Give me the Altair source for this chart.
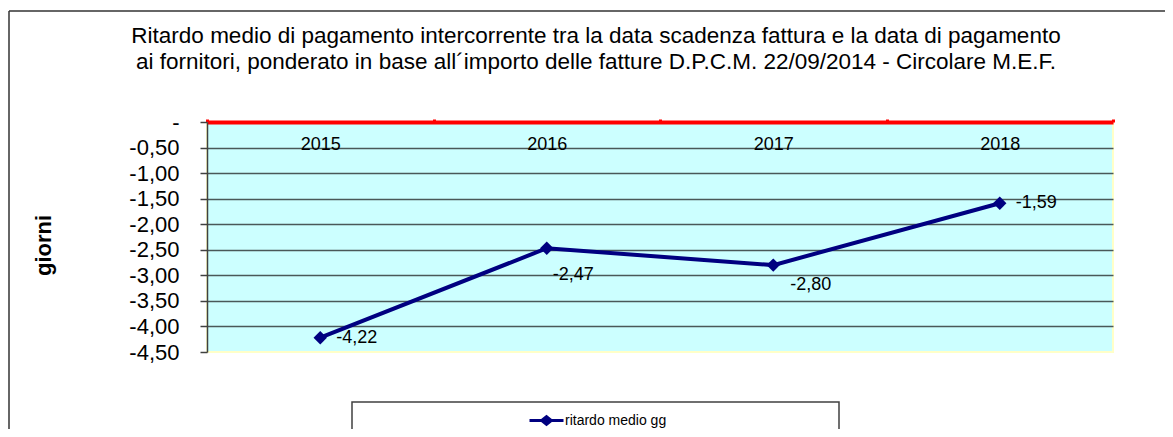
import altair as alt
import pandas as pd

# ---- data ----
ANNI = ["2015", "2016", "2017", "2018"]
VALORI = [-4.22, -2.47, -2.80, -1.59]
SERIE = "ritardo medio gg"
Y_TICKS = [0, -0.5, -1.0, -1.5, -2.0, -2.5, -3.0, -3.5, -4.0, -4.5]
TITOLO = [
    "Ritardo medio di pagamento intercorrente tra la data scadenza fattura e la data di pagamento",
    "ai fornitori, ponderato in base all\u00b4importo delle fatture D.P.C.M. 22/09/2014 - Circolare M.E.F.",
]
ASSE_Y = "giorni"

FONT = "Liberation Sans"
NAVY = "#000080"

df = pd.DataFrame({"anno": ANNI, "valore": VALORI, "serie": [SERIE] * len(ANNI)})
one = pd.DataFrame({"k": [0]})

W, H = 906, 230

x_enc = alt.X(
    "anno:N",
    sort=ANNI,
    scale=alt.Scale(paddingInner=0, paddingOuter=0),
    axis=alt.Axis(
        orient="top", title=None, labelAngle=0, labelFont=FONT, labelFontSize=18,
        labelColor="#000000", labelBaseline="alphabetic", labelPadding=-30,
        domainColor="#FF0000", domainWidth=4, tickColor="#FF0000", tickSize=3,
        tickWidth=3, tickBand="extent", grid=False,
    ),
)
y_enc = alt.Y(
    "valore:Q",
    scale=alt.Scale(domain=[-4.5, 0], nice=False, zero=False),
    axis=alt.Axis(
        values=Y_TICKS, title=ASSE_Y, titleFont=FONT, titleFontSize=22,
        titleFontWeight="bold", titleColor="#000000", titleAngle=-90,
        titleX=-164, titleY=123, titleAlign="center", titleBaseline="middle",
        labelFont=FONT, labelFontSize=22, labelColor="#000000", labelPadding=21,
        labelExpr="datum.value == 0 ? '-' : (datum.value < 0 ? '-' : '') + replace(format(abs(datum.value), '.2f'), '.', ',')",
        domainColor="#404040", domainWidth=1.5, tickColor="#404040", tickSize=7,
        tickWidth=1.5, grid=True,
        gridColor={"condition": {"test": "datum.value <= -4.5 || datum.value >= 0",
                                 "value": "transparent"}, "value": "#4a5858"},
        gridWidth=1.5,
    ),
)

border_top = alt.Chart(one).mark_rule(color="#333333", strokeWidth=1.5).encode(
    x=alt.value(-198), x2=alt.value(1000), y=alt.value(-111)
)
border_left = alt.Chart(one).mark_rule(color="#333333", strokeWidth=1.5).encode(
    x=alt.value(-198), y=alt.value(-111), y2=alt.value(400)
)
legend_box = alt.Chart(one).mark_rect(fill="#FFFFFF", stroke="#404040", strokeWidth=1.5).encode(
    x=alt.value(145), x2=alt.value(632), y=alt.value(280), y2=alt.value(313)
)
title = alt.Chart(one).mark_text(
    font=FONT, fontSize=22.5, lineHeight=26, align="center", baseline="alphabetic", color="#000000"
).encode(x=alt.value(389), y=alt.value(-79), text=alt.value(TITOLO))

line = alt.Chart(df).mark_line(strokeWidth=4).encode(
    x=x_enc, y=y_enc,
    color=alt.Color(
        "serie:N",
        scale=alt.Scale(range=[NAVY]),
        legend=alt.Legend(
            orient="none", legendX=321, legendY=280, title=None, padding=0,
            symbolType="M-1,0H1M-0.28,0L0,-0.22L0.28,0L0,0.22Z", symbolSize=1156,
            symbolStrokeWidth=3, symbolFillColor=NAVY, symbolStrokeColor=NAVY,
            labelFont=FONT, labelFontSize=14, labelColor="#000000", labelOffset=0,
        ),
    ),
)
points = alt.Chart(df).mark_point(shape="diamond", filled=True, size=180, opacity=1).encode(
    x=x_enc, y=y_enc, color=alt.value(NAVY)
)

lab = "(datum.valore < 0 ? '-' : '') + replace(format(abs(datum.valore), '.2f'), '.', ',')"
lab_right = alt.Chart(df).transform_filter(
    alt.FieldOneOfPredicate(field="anno", oneOf=[ANNI[0], ANNI[3]])
).transform_calculate(lab=lab).mark_text(
    font=FONT, fontSize=18, align="left", baseline="middle", dx=16, color="#000000"
).encode(x=x_enc, y=y_enc, text="lab:N")
lab_2016 = alt.Chart(df).transform_filter(
    alt.FieldEqualPredicate(field="anno", equal=ANNI[1])
).transform_calculate(lab=lab).mark_text(
    font=FONT, fontSize=18, align="left", baseline="middle", dx=6, dy=27, color="#000000"
).encode(x=x_enc, y=y_enc, text="lab:N")
lab_2017 = alt.Chart(df).transform_filter(
    alt.FieldEqualPredicate(field="anno", equal=ANNI[2])
).transform_calculate(lab=lab).mark_text(
    font=FONT, fontSize=18, align="left", baseline="middle", dx=17, dy=20, color="#000000"
).encode(x=x_enc, y=y_enc, text="lab:N")

chart = alt.layer(
    border_top, border_left, legend_box, title, line, points, lab_right, lab_2016, lab_2017
).properties(
    width=W, height=H,
    autosize=alt.AutoSizeParams(type="none"),
    padding={"left": 199, "top": 114, "right": 52, "bottom": 77},
    background="#FFFFFF",
).configure_view(fill="#CCFFFF", stroke="#FFFFC8", strokeWidth=2)

chart.save("out.html", embed_options={"renderer": "svg", "actions": False})
